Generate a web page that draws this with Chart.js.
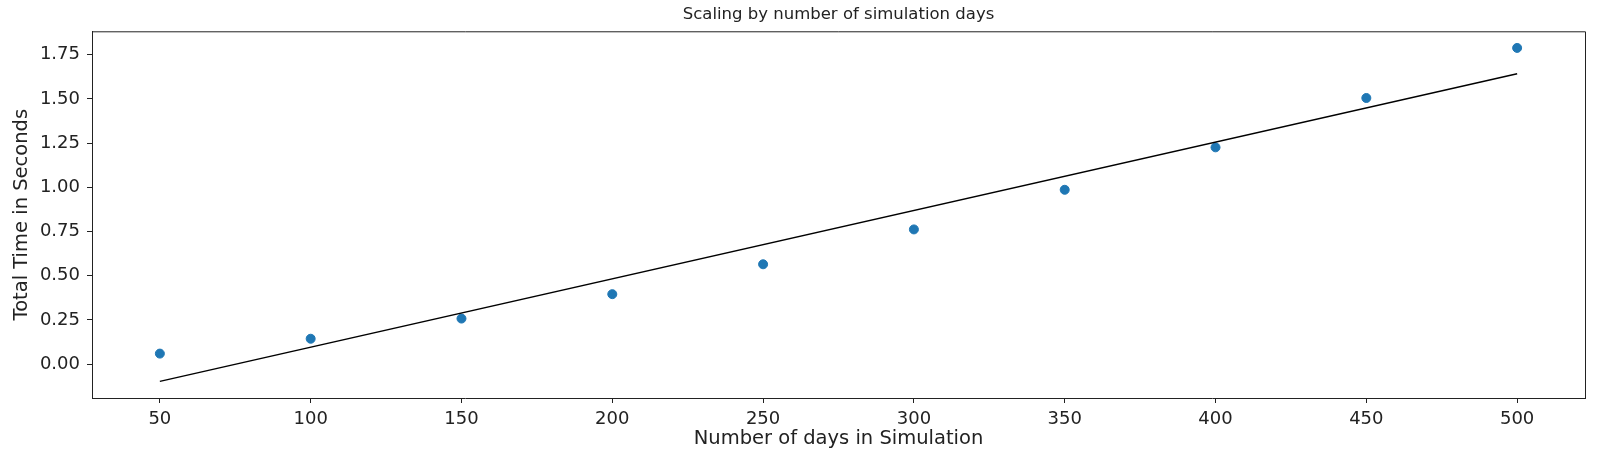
<!DOCTYPE html>
<html lang="en">
<head>
  <meta charset="UTF-8">
  <title>Scaling by number of simulation days</title>
  <script src="https://cdn.jsdelivr.net/npm/chart.js"></script>
  <style>
    * { box-sizing: border-box; }
    body, html { margin:0; padding:0; background:#fff; }
    .chart-container { position:relative; width:1600px; height:450px; }
  </style>
</head>
<body>
  <div class="chart-container">
    <canvas id="scalingChart"></canvas>
  </div>

  <script>
    // values
    const days = [50, 100, 150, 200, 250, 300, 350, 400, 450, 500];
    const totalSeconds = [0.060, 0.144, 0.258, 0.396, 0.565, 0.762, 0.986, 1.226, 1.505, 1.788];
    const fitDays = [50, 500];
    const fitSeconds = [-0.097, 1.642];
    const xTicks = [50, 100, 150, 200, 250, 300, 350, 400, 450, 500];
    const yTicks = [0, 0.25, 0.5, 0.75, 1.0, 1.25, 1.5, 1.75];

    const font = 'DejaVu Sans';
    const ink = '#222';

    // top + right spines like matplotlib
    const frame = {
      id: 'frame',
      afterDraw(chart) {
        const { ctx, chartArea: a } = chart;
        ctx.save();
        ctx.strokeStyle = ink;
        ctx.lineWidth = 1;
        ctx.beginPath();
        ctx.moveTo(a.left, a.top + 0.5);
        ctx.lineTo(a.right + 0.5, a.top + 0.5);
        ctx.lineTo(a.right + 0.5, a.bottom);
        ctx.stroke();
        ctx.restore();
      }
    };

    const ctx = document.getElementById('scalingChart').getContext('2d');
    new Chart(ctx, {
      type: 'scatter',
      data: {
        datasets: [
          {
            label: 'measured',
            data: days.map((d, i) => ({ x: d, y: totalSeconds[i] })),
            backgroundColor: '#1f77b4',
            borderColor: '#1f77b4',
            pointRadius: 4.5,
            pointHoverRadius: 4.5,
            order: 2
          },
          {
            label: 'fit',
            data: fitDays.map((d, i) => ({ x: d, y: fitSeconds[i] })),
            showLine: true,
            borderColor: '#000',
            borderWidth: 1.5,
            pointRadius: 0,
            order: 1
          }
        ]
      },
      options: {
        responsive: true,
        maintainAspectRatio: false,
        animation: false,
        layout: { padding: { left: 0, right: 15, top: 0, bottom: 0 } },
        plugins: {
          legend: { display: false },
          tooltip: { enabled: false },
          title: {
            display: true,
            text: 'Scaling by number of simulation days',
            fullSize: false,
            color: ink,
            font: { family: font, size: 16.5, weight: 'normal', lineHeight: 1.2 },
            padding: { top: 5, bottom: 6.5 }
          }
        },
        scales: {
          x: {
            type: 'linear',
            min: 27.5,
            max: 522.5,
            afterBuildTicks: s => { s.ticks = xTicks.map(v => ({ value: v })); },
            afterFit: s => { s.height = 52; },
            grid: { drawOnChartArea: false, drawTicks: true, tickLength: 5, color: ink },
            border: { display: true, color: ink, width: 1 },
            ticks: { color: ink, padding: 6, maxRotation: 0, autoSkip: false, font: { family: font, size: 18 } },
            title: {
              display: true,
              text: 'Number of days in Simulation',
              color: ink,
              font: { family: font, size: 19.5, lineHeight: 1.2 },
              padding: { top: 0, bottom: -1 }
            }
          },
          y: {
            type: 'linear',
            min: -0.191,
            max: 1.882,
            afterBuildTicks: s => { s.ticks = yTicks.map(v => ({ value: v })); },
            afterFit: s => { s.width = 92; },
            grid: { drawOnChartArea: false, drawTicks: true, tickLength: 5, color: ink },
            border: { display: true, color: ink, width: 1 },
            ticks: { color: ink, padding: 7, autoSkip: false, font: { family: font, size: 18 }, callback: v => v.toFixed(2) },
            title: {
              display: true,
              text: 'Total Time in Seconds',
              color: ink,
              font: { family: font, size: 19.5, lineHeight: 1.2 },
              padding: { top: 10, bottom: 0 }
            }
          }
        }
      },
      plugins: [frame]
    });
  </script>
</body>
</html>
